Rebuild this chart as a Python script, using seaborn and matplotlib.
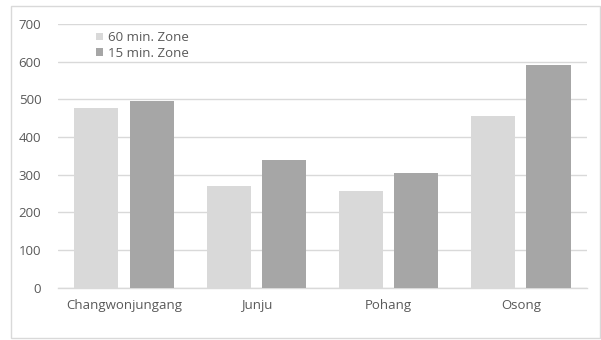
import matplotlib
matplotlib.use("Agg")
import matplotlib.pyplot as plt
import seaborn as sns
import pandas as pd
from matplotlib.patches import Rectangle

stations = ["Changwonjungang", "Junju", "Pohang", "Osong"]
zone_60 = [478, 270, 257, 456]
zone_15 = [496, 340, 304, 591]
zones = ["60 min. Zone", "15 min. Zone"]
y_ticks = [0, 100, 200, 300, 400, 500, 600, 700]

df = pd.DataFrame({
    "station": stations * 2,
    "zone": [zones[0]] * len(stations) + [zones[1]] * len(stations),
    "value": zone_60 + zone_15,
})

sns.set_theme(style="white")
plt.rcParams["font.family"] = ["Open Sans", "DejaVu Sans"]

fig = plt.figure(figsize=(6.01, 3.4), dpi=100)
ax = fig.add_axes([0.0965, 0.1538, 0.88, 0.7756])

sns.barplot(data=df, x="station", y="value", hue="zone",
            palette=["#d9d9d9", "#a6a6a6"], width=0.84, gap=0.206,
            saturation=1, errorbar=None, ax=ax, zorder=3, linewidth=0)

ax.set_ylim(0, 700)
ax.set_yticks(y_ticks)
ax.set_xlim(-0.5, len(stations) - 0.5)
ax.set_xlabel("")
ax.set_ylabel("")
ax.yaxis.grid(True, color="#d9d9d9", linewidth=1.0, zorder=0)
ax.set_axisbelow(True)
for side in ["top", "right", "left"]:
    ax.spines[side].set_visible(False)
ax.spines["bottom"].set_color("#d9d9d9")
ax.spines["bottom"].set_linewidth(1.0)
ax.tick_params(axis="both", length=0, colors="#595959", labelsize=9.5)
ax.tick_params(axis="y", pad=12)
ax.tick_params(axis="x", pad=8)

leg = ax.legend(loc="upper left", bbox_to_anchor=(0.058, 1.0), frameon=False,
                fontsize=9.5, handlelength=0.5, handleheight=0.5,
                handletextpad=0.45, labelspacing=0.2, borderaxespad=0.15)
for t in leg.get_texts():
    t.set_color("#595959")

fig.patches.append(Rectangle((11 / 601, 2 / 340), 589 / 601, 332 / 340,
                             transform=fig.transFigure, fill=False,
                             edgecolor="#d9d9d9", linewidth=1.0))

fig.savefig("out.png", dpi=100, facecolor="white")
